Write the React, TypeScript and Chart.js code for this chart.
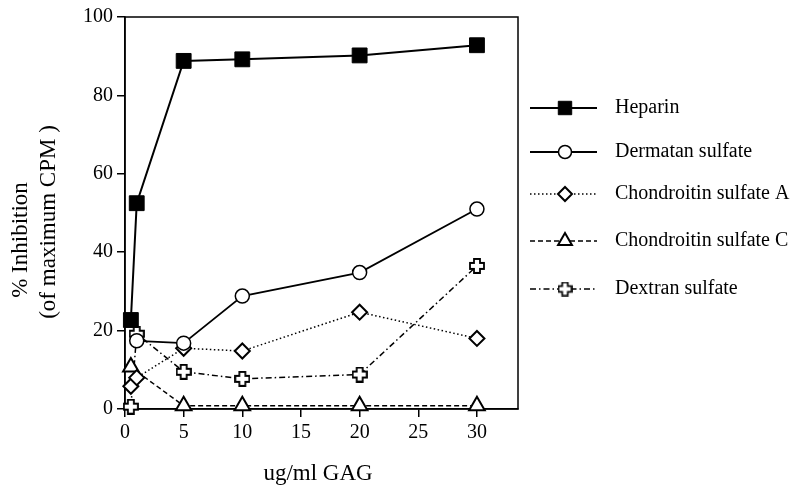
import { useEffect, useRef } from 'react';
import { Chart, registerables } from 'chart.js';
import { drawPoint } from 'chart.js/helpers';
Chart.register(...registerables);

const seriesNames = ['Heparin', 'Dermatan sulfate', 'Chondroitin sulfate A', 'Chondroitin sulfate C', 'Dextran sulfate'];
const xHeparin = [0.5, 1, 5, 10, 20, 30];
const yHeparin = [22.7, 52.5, 88.8, 89.2, 90.2, 92.8];
const xDermatan = [1, 5, 10, 20, 30];
const yDermatan = [17.4, 16.8, 28.8, 34.8, 51];
const xCSA = [0.5, 1, 5, 10, 20, 30];
const yCSA = [5.8, 8.0, 15.5, 14.8, 24.7, 18];
const xCSC = [0.5, 5, 10, 20, 30];
const yCSC = [10.7, 0.8, 0.8, 0.8, 0.8];
const xDex = [0.5, 1, 5, 10, 20, 30];
const yDex = [0.6, 19.2, 9.5, 7.7, 8.8, 36.5];
const xTicks = [0, 5, 10, 15, 20, 25, 30];
const yTicks = [0, 20, 40, 60, 80, 100];
const xTitle = 'ug/ml GAG';
const yTitle = ['% Inhibition', '(of maximum CPM )'];

const FONT = '"Liberation Serif", "Times New Roman", serif';

function makePlus(size: number, arm: number, lw: number) {
  const c = document.createElement('canvas');
  c.width = size;
  c.height = size;
  const g = c.getContext('2d')!;
  const m = size / 2;
  const h = (size - 2) / 2;
  g.beginPath();
  g.moveTo(m - arm, m - h);
  g.lineTo(m + arm, m - h);
  g.lineTo(m + arm, m - arm);
  g.lineTo(m + h, m - arm);
  g.lineTo(m + h, m + arm);
  g.lineTo(m + arm, m + arm);
  g.lineTo(m + arm, m + h);
  g.lineTo(m - arm, m + h);
  g.lineTo(m - arm, m + arm);
  g.lineTo(m - h, m + arm);
  g.lineTo(m - h, m - arm);
  g.lineTo(m - arm, m - arm);
  g.closePath();
  g.fillStyle = '#fff';
  g.fill();
  g.lineWidth = lw;
  g.strokeStyle = '#000';
  g.stroke();
  return c;
}

function pts(xs: number[], ys: number[]) {
  return xs.map((x, i) => ({ x, y: ys[i] }));
}

export default function App() {
  const ref = useRef<HTMLCanvasElement>(null);
  useEffect(() => {
    const plus = makePlus(16, 3, 1.8);
    const plusLegend = makePlus(15, 2.8, 1.7);
    const legendStyles: any[] = [
      { pointStyle: 'rect', radius: 9.5, fill: '#000', bw: 1 },
      { pointStyle: 'circle', radius: 6.5, fill: '#fff', bw: 1.5 },
      { pointStyle: 'rectRot', radius: 7, fill: '#fff', bw: 2 },
      { pointStyle: 'triangle', radius: 8, fill: '#fff', bw: 2 },
      { pointStyle: plusLegend, radius: 7, fill: '#fff', bw: 1 },
    ];
    const legendRows = [108, 152, 194, 241, 289];

    const custom = {
      id: 'custom',
      beforeDatasetsDraw(chart: any) {
        const { ctx, chartArea: a } = chart;
        ctx.save();
        ctx.strokeStyle = '#000';
        ctx.lineWidth = 1.5;
        ctx.strokeRect(a.left, a.top, a.right - a.left, a.bottom - a.top);
        ctx.restore();
      },
      afterDraw(chart: any) {
        const { ctx } = chart;
        ctx.save();
        // legend
        chart.data.datasets.forEach((ds: any, i: number) => {
          const y = legendRows[i];
          ctx.strokeStyle = '#000';
          ctx.lineWidth = ds.borderWidth;
          ctx.setLineDash(ds.borderDash || []);
          ctx.beginPath();
          ctx.moveTo(530, y);
          ctx.lineTo(597, y);
          ctx.stroke();
          ctx.setLineDash([]);
          const st = legendStyles[i];
          ctx.fillStyle = st.fill;
          ctx.strokeStyle = '#000';
          ctx.lineWidth = st.bw;
          drawPoint(ctx, { pointStyle: st.pointStyle, radius: st.radius, rotation: 0, borderWidth: st.bw }, 565, y);
          ctx.fillStyle = '#000';
          ctx.font = `20px ${FONT}`;
          ctx.textAlign = 'left';
          ctx.textBaseline = 'middle';
          ctx.fillText(ds.label, 615, y);
        });
        // axis titles
        ctx.fillStyle = '#000';
        ctx.font = `23px ${FONT}`;
        ctx.textAlign = 'center';
        ctx.textBaseline = 'middle';
        ctx.fillText(xTitle, 318, 474);
        const yCenters = [240, 222];
        const xPos = [21, 49];
        yTitle.forEach((t, i) => {
          ctx.save();
          ctx.translate(xPos[i], yCenters[i]);
          ctx.rotate(-Math.PI / 2);
          ctx.fillText(t, 0, 0);
          ctx.restore();
        });
        ctx.restore();
      },
    };

    const chart = new Chart(ref.current!, {
      type: 'scatter',
      data: {
        datasets: [
          {
            label: seriesNames[0],
            data: pts(xHeparin, yHeparin),
            showLine: true,
            borderColor: '#000',
            backgroundColor: '#000',
            borderWidth: 2,
            pointStyle: 'rect',
            pointRadius: 10.5,
            pointBorderWidth: 1,
            pointBackgroundColor: '#000',
            clip: false,
          },
          {
            label: seriesNames[1],
            data: pts(xDermatan, yDermatan),
            showLine: true,
            borderColor: '#000',
            borderWidth: 1.8,
            pointStyle: 'circle',
            pointRadius: 7,
            pointBorderWidth: 1.5,
            pointBackgroundColor: '#fff',
            clip: false,
          },
          {
            label: seriesNames[2],
            data: pts(xCSA, yCSA),
            showLine: true,
            borderColor: '#000',
            borderWidth: 1.5,
            borderDash: [1.5, 2.5],
            pointStyle: 'rectRot',
            pointRadius: 7.5,
            pointBorderWidth: 2,
            pointBackgroundColor: '#fff',
            clip: false,
          },
          {
            label: seriesNames[3],
            data: pts(xCSC, yCSC),
            showLine: true,
            borderColor: '#000',
            borderWidth: 1.5,
            borderDash: [5, 3],
            pointStyle: 'triangle',
            pointRadius: 9,
            pointBorderWidth: 2,
            pointBackgroundColor: '#fff',
            clip: false,
          },
          {
            label: seriesNames[4],
            data: pts(xDex, yDex),
            showLine: true,
            borderColor: '#000',
            borderWidth: 1.5,
            borderDash: [6, 3, 1.5, 3],
            pointStyle: plus as any,
            pointRadius: 8,
            pointBackgroundColor: '#fff',
            clip: false,
          },
        ] as any,
      },
      options: {
        animation: false,
        responsive: false,
        layout: { padding: { left: 0, top: 17, right: 282, bottom: 0 } },
        plugins: { legend: { display: false }, tooltip: { enabled: false } },
        scales: {
          x: {
            type: 'linear',
            min: 0,
            max: 33.5,
            afterFit: (s: any) => { s.height = 89; },
            afterBuildTicks: (s: any) => { s.ticks = xTicks.map((v) => ({ value: v })); },
            grid: { drawOnChartArea: false, drawTicks: true, tickLength: 8, color: '#000', lineWidth: 1.5 },
            border: { display: true, color: '#000', width: 1.5 },
            ticks: { color: '#000', font: { family: FONT, size: 20 }, padding: 4, maxRotation: 0 },
          },
          y: {
            type: 'linear',
            min: 0,
            max: 100,
            afterFit: (s: any) => { s.width = 125; },
            afterBuildTicks: (s: any) => { s.ticks = yTicks.map((v) => ({ value: v })); },
            grid: { drawOnChartArea: false, drawTicks: true, tickLength: 8, color: '#000', lineWidth: 1.5 },
            border: { display: true, color: '#000', width: 1.5 },
            ticks: { color: '#000', font: { family: FONT, size: 20 }, padding: 4 },
          },
        },
      },
      plugins: [custom],
    });
    return () => chart.destroy();
  }, []);
  return (
    <canvas
      ref={ref}
      width={800}
      height={498}
      style={{ position: 'absolute', left: 0, top: 0, width: 800, height: 498, display: 'block', background: '#fff' }}
    />
  );
}
